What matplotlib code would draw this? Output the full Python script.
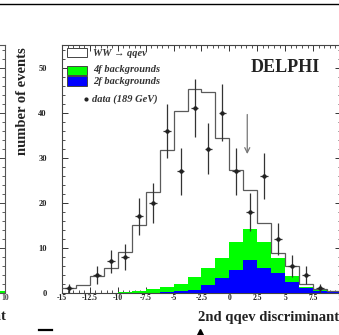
import numpy as np
import matplotlib
matplotlib.use('Agg')
import matplotlib.pyplot as plt
from matplotlib.patches import Rectangle
from matplotlib.lines import Line2D
from matplotlib.ticker import MultipleLocator, FixedLocator

plt.rcParams['font.family'] = ['Liberation Serif', 'DejaVu Serif']

# ---------------- data ----------------
bin_edges = [-15.0, -13.75, -12.5, -11.25, -10.0, -8.75, -7.5, -6.25, -5.0, -3.75,
             -2.5, -1.25, 0.0, 1.25, 2.5, 3.75, 5.0, 6.25, 7.5, 8.75, 10.0]
ww_signal = [1.0, 1.8, 3.8, 5.4, 9.0, 14.6, 21.6, 30.4, 38.2, 41.7,
             39.0, 26.7, 15.9, 8.8, 4.1, 1.1, 2.1, 0.6, 0.1, 0.0]
bkg_4f = [0.0, 0.0, 0.0, 0.05, 0.15, 0.3, 0.8, 1.2, 1.7, 2.9,
          3.7, 4.4, 6.3, 6.8, 5.9, 3.2, 1.3, 0.4, 0.2, 0.1]
bkg_2f = [0.0, 0.0, 0.0, 0.05, 0.05, 0.1, 0.1, 0.2, 0.4, 0.7,
          1.8, 3.3, 5.1, 7.3, 5.5, 4.5, 2.5, 1.0, 0.5, 0.3]
data_189 = [1, 0, 4, 7, 8, 17, 20, 36, 27, 41,
            32, 40, 27, 18, 26, 12, 6, 4, 1, 0]
cut_value = 1.6
cut_arrow_from, cut_arrow_to = 40.2, 30.2

x_ticks = [-15, -12.5, -10, -7.5, -5, -2.5, 0, 2.5, 5, 7.5, 10]
x_ticklabels = ['-15', '-12.5', '-10', '-7.5', '-5', '-2.5', '0', '2.5', '5', '7.5', '10']
y_ticks = [0, 10, 20, 30, 40, 50]
legend_labels = ['WW \u2192 qqev', '4f backgrounds', '2f backgrounds', 'data (189 GeV)']

# ---------------- figure ----------------
W, H = 339, 335
fig = plt.figure(figsize=(W / 100, H / 100), dpi=100)

def fx(px):
    return px / W

def fy(py):
    return 1 - py / H

ax_l, ax_r, ax_t, ax_b = 62, 341, 45, 293
ax = fig.add_axes([fx(ax_l), fy(ax_b), (ax_r - ax_l) / W, (ax_b - ax_t) / H])

edges = np.array(bin_edges)
centers = 0.5 * (edges[:-1] + edges[1:])
ww = np.array(ww_signal)
b4 = np.array(bkg_4f)
b2 = np.array(bkg_2f)
green_top = b2 + b4
total = green_top + ww

ax.stairs(green_top, edges, fill=True, color='#00ff00', zorder=2)
ax.stairs(b2, edges, fill=True, color='#0000ff', zorder=3)
ax.stairs(total, edges, color='#5a5a5a', lw=0.9, zorder=4, baseline=None)

d = np.array(data_189, dtype=float)
m = d > 0
ax.errorbar(centers[m], d[m], yerr=np.sqrt(d[m]), xerr=0.35, fmt='o', ms=2.2,
            color='#222222', ecolor='#333333', elinewidth=0.9, capsize=0, zorder=5)

ax.annotate('', xy=(cut_value, cut_arrow_to), xytext=(cut_value, cut_arrow_from),
            arrowprops=dict(arrowstyle='->', color='#777777', lw=0.9,
                            mutation_scale=9), zorder=6)

ax.set_xlim(-15, 10)
ax.set_ylim(0, 55)
ax.xaxis.set_major_locator(FixedLocator(x_ticks))
ax.set_xticklabels(x_ticklabels)
ax.xaxis.set_minor_locator(MultipleLocator(0.5))
ax.yaxis.set_major_locator(FixedLocator(y_ticks))
ax.yaxis.set_minor_locator(MultipleLocator(2))
ax.tick_params(which='both', direction='in', top=True, right=True, colors='#333333')
ax.tick_params(which='major', length=4.5, width=0.7)
ax.tick_params(which='minor', length=2.5, width=0.6)
ax.tick_params(axis='x', which='major', pad=1, labelsize=5.5)
ax.tick_params(axis='y', which='major', pad=11, labelsize=6)
for lab in ax.get_xticklabels() + ax.get_yticklabels():
    lab.set_fontweight('bold')
    lab.set_color('#222222')
for s in ax.spines.values():
    s.set_color('#444444')
    s.set_linewidth(0.8)

# legend (manual, in axes fraction)
def axx(px):
    return (px - ax_l) / (ax_r - ax_l)

def axy(py):
    return (ax_b - py) / (ax_b - ax_t)

box_x0, box_x1 = axx(67), axx(87)
boxes = [(48, 57, 'white'), (66, 75, '#00ff00'), (76, 86, '#0000ff')]
for (y0, y1, col) in boxes:
    ax.add_patch(Rectangle((box_x0, axy(y1)), box_x1 - box_x0, axy(y0) - axy(y1),
                           transform=ax.transAxes, facecolor=col, edgecolor='#444444',
                           lw=0.7, zorder=7))
text_rows = [54, 70, 82, 99]
for lab, ry in zip(legend_labels, text_rows):
    xx = axx(93) if lab != legend_labels[3] else axx(92)
    ax.text(xx, axy(ry), lab, transform=ax.transAxes, fontsize=7.5, style='italic',
            fontweight='bold', color='#333333', va='center', ha='left', zorder=7)
ax.plot([axx(86)], [axy(99)], 'o', ms=2, color='#222222', transform=ax.transAxes,
        zorder=7, clip_on=False)

ax.text(axx(285), axy(67), 'DELPHI', transform=ax.transAxes, fontsize=13,
        fontweight='bold', color='#222222', ha='center', va='center', zorder=7)

# axis labels
fig.text(fx(23), fy(47), 'number of events', rotation=90, ha='center', va='top',
         fontsize=10.5, fontweight='bold', color='#222222')
fig.text(fx(198), fy(318), '2nd qqev discriminant', ha='left', va='center',
         fontsize=10.5, fontweight='bold', color='#222222')

# neighbouring panel fragment on the left
pw = ax_r - ax_l
ax0 = fig.add_axes([fx(5 - pw), fy(ax_b), pw / W, (ax_b - ax_t) / H])
ax0.stairs(green_top, edges, fill=True, color='#00ff00')
ax0.set_xlim(-15, 10)
ax0.set_ylim(0, 55)
ax0.xaxis.set_major_locator(FixedLocator([10]))
ax0.set_xticklabels(['10'])
ax0.xaxis.set_minor_locator(MultipleLocator(0.5))
ax0.yaxis.set_major_locator(FixedLocator(y_ticks))
ax0.yaxis.set_minor_locator(MultipleLocator(2))
ax0.tick_params(which='both', direction='in', top=True, right=True, labelleft=False,
                colors='#444444')
ax0.tick_params(which='major', length=4.5, width=0.7)
ax0.tick_params(which='minor', length=2.5, width=0.6)
ax0.tick_params(axis='x', pad=1, labelsize=5.5)
for lab in ax0.get_xticklabels():
    lab.set_fontweight('bold')
for s in ax0.spines.values():
    s.set_color('#555555')
    s.set_linewidth(0.8)
fig.text(fx(6), fy(316), 'discriminant', ha='right', va='center', fontsize=10.5,
         fontweight='bold', color='#222222')

# page rule at the top and fragments at the bottom
fig.add_artist(Line2D([0, 1], [fy(4), fy(4)], color='black', lw=1.0))
fig.add_artist(Line2D([fx(39), fx(52)], [fy(330), fy(330)], color='black', lw=1.6))
fig.add_artist(Line2D([fx(200)], [fy(332)], marker='^', ms=5, color='black', lw=0))

fig.savefig('out.png', dpi=100)
